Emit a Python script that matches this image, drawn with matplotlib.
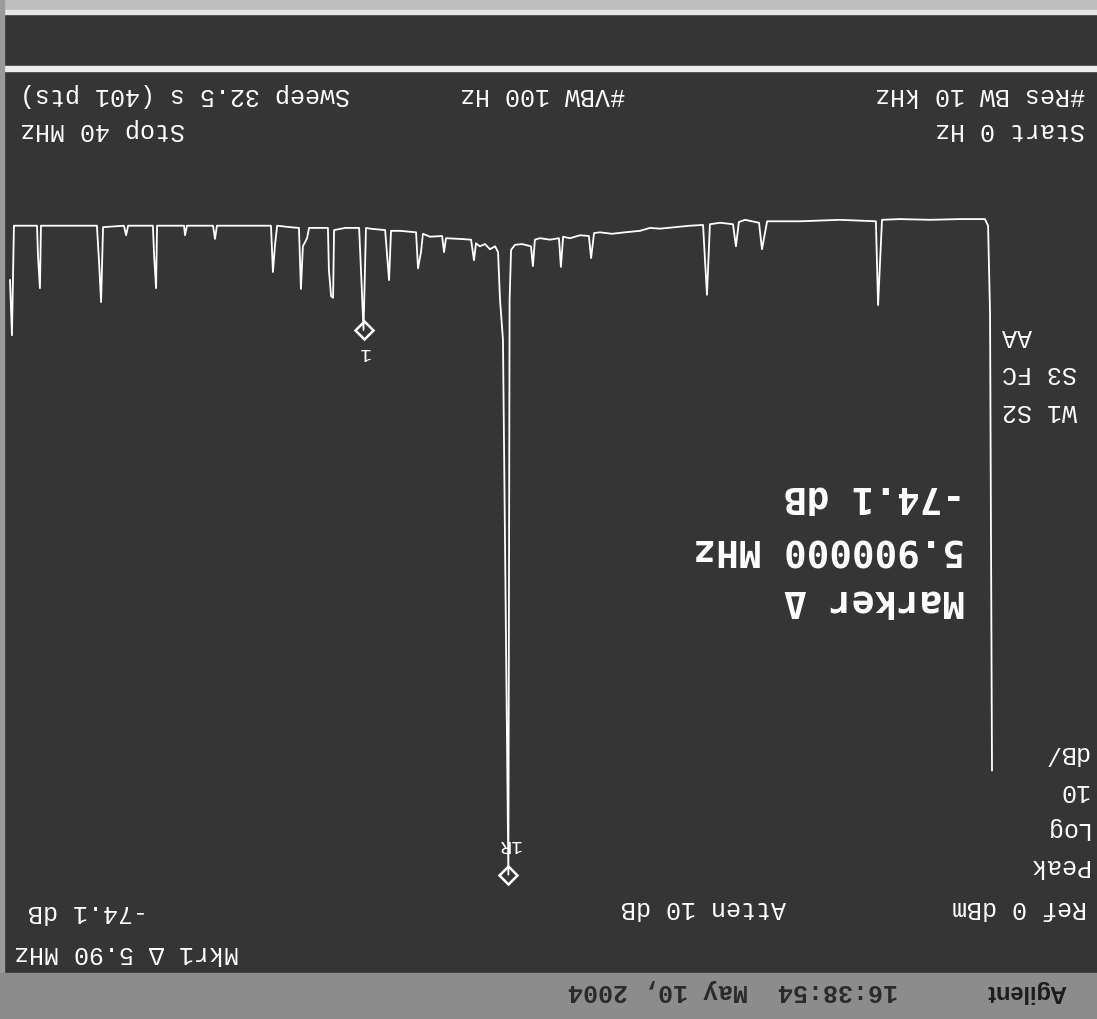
import matplotlib
matplotlib.use('Agg')
import matplotlib.pyplot as plt
from matplotlib.patches import Rectangle

freq_mhz = [0.00, 0.08, 0.16, 0.29, 1.30, 2.53, 3.75, 4.48, 4.56, 4.64,
            4.73, 6.19, 7.82, 9.16, 9.37, 9.49, 10.06, 10.31, 10.43, 10.55,
            11.08, 11.49, 11.61, 11.69, 11.77, 12.30, 12.91, 13.52, 13.93, 14.34,
            14.95, 15.48, 15.97, 16.21, 16.33, 16.42, 16.78, 17.19, 17.47, 17.56,
            17.64, 18.00, 18.41, 18.62, 18.70, 18.78, 19.14, 19.43, 19.59, 19.65,
            19.70, 19.92, 20.04, 20.12, 20.24, 20.45, 20.65, 20.86, 21.02, 21.10,
            21.22, 21.67, 22.24, 22.32, 22.40, 22.89, 23.18, 23.26, 23.38, 23.46,
            24.11, 24.48, 24.56, 24.64, 24.72, 25.34, 25.50, 25.60, 25.70, 25.78,
            26.35, 26.80, 26.84, 26.92, 27.01, 27.05, 27.82, 27.90, 28.07, 28.15,
            28.23, 28.59, 29.12, 29.21, 29.29, 29.37, 30.22, 31.57, 31.65, 31.73,
            32.79, 32.87, 32.91, 34.01, 34.05, 34.13, 34.18, 35.19, 35.27, 35.36,
            36.21, 36.29, 36.37, 36.46, 37.56, 38.74, 38.78, 38.86, 38.90, 39.84,
            39.92, 40.00]
level_dbm = [-15.6, -77.8, -89.7, -90.6, -90.6, -90.5, -90.6, -90.5, -84.8, -78.9,
             -90.3, -90.5, -90.3, -90.3, -86.5, -90.1, -90.5, -90.2, -86.9, -89.9,
             -90.1, -89.9, -80.3, -85.0, -89.8, -89.7, -89.5, -89.3, -89.4, -89.0,
             -88.8, -88.6, -88.8, -88.7, -85.3, -88.3, -88.4, -88.0, -88.2, -84.1,
             -88.0, -87.8, -88.0, -87.8, -84.2, -86.9, -87.2, -87.1, -86.4, -79.6,
             -1.4, -74.2, -79.6, -86.1, -86.9, -86.5, -87.2, -86.9, -87.3, -85.0,
             -87.8, -87.9, -88.0, -86.1, -88.3, -88.2, -88.6, -86.1, -83.9, -88.8,
             -89.0, -89.0, -82.3, -85.7, -89.1, -89.3, -89.4, -75.5, -83.4, -89.4,
             -89.4, -89.1, -79.9, -80.1, -83.7, -89.4, -89.4, -88.0, -86.9, -81.1,
             -89.4, -89.5, -89.7, -86.9, -83.4, -89.7, -89.7, -89.7, -87.9, -89.7,
             -89.7, -88.4, -89.7, -89.7, -81.2, -85.6, -89.7, -89.7, -88.4, -89.7,
             -89.5, -79.3, -84.6, -89.7, -89.7, -89.7, -81.2, -85.6, -89.7, -89.7,
             -74.8, -82.3]

marker_labels = ['1', '1R']
marker_freq = [25.60, 19.70]
marker_level = [-75.5, -1.4]

start_mhz, stop_mhz = 0, 40
ref_dbm, db_per_div = 0, 10

W, H = 1097, 1019
BG = '#353535'
MONO = ['Liberation Mono', 'DejaVu Sans Mono']

fig = plt.figure(figsize=(W / 100, H / 100), dpi=100, facecolor=BG)

# pixel-space layer for the screen furniture
bg = fig.add_axes([0, 0, 1, 1])
bg.set_xlim(0, W)
bg.set_ylim(H, 0)
bg.axis('off')
bg.add_patch(Rectangle((0, 0), W, 11, color='#bdbdbd'))
bg.add_patch(Rectangle((0, 10), W, 4, color='#e6e6e6'))
bg.add_patch(Rectangle((0, 66), W, 5, color='#ededed'))
bg.add_patch(Rectangle((0, 0), 4, H, color='#9a9a9a'))
bg.add_patch(Rectangle((0, 973), W, 46, color='#8c8c8c'))


def flip(x, y, s, ha='left', size=18, **kw):
    kw.setdefault('color', 'white')
    kw.setdefault('family', MONO)
    bg.text(x, y, s, rotation=180, ha=ha, va='center', fontsize=size, **kw)


d_f = marker_freq[0] - marker_freq[1]
d_l = marker_level[0] - marker_level[1]

flip(20, 95, 'Sweep 32.5 s (401 pts)')
flip(460, 95, '#VBW 100 Hz')
flip(1085, 95, '#Res BW 10 kHz', ha='right')
flip(20, 130, f'Stop {stop_mhz} MHz')
flip(1085, 130, f'Start {start_mhz} Hz', ha='right')

flip(1002, 336, '   AA')
flip(1002, 373, 'S3 FC')
flip(1002, 411, 'W1 S2')

flip(1088, 753, 'dB/', ha='right')
flip(1088, 791, f'{db_per_div}', ha='right')
flip(1088, 829, 'Log', ha='right')
flip(1088, 866, 'Peak', ha='right')
flip(1087, 908, f'Ref {ref_dbm} dBm', ha='right')
flip(704, 908, 'Atten 10 dB', ha='center')
flip(28, 912, f'{d_l:.1f} dB')
flip(14, 953, f'Mkr1 Δ {d_f:.2f} MHz')

big = dict(size=27, family=['DejaVu Sans Mono'], fontweight='bold')
flip(965, 497, f'{d_l:.1f} dB', ha='right', **big)
flip(965, 548, f'{d_f:.6f} MHz', ha='right', **big)
flip(965, 600, 'Marker Δ', ha='right', **big)

flip(1066, 991, 'Agilent', ha='right', size=17, color='#1c1c1c',
     family=['Liberation Sans'], fontweight='bold')
flip(898, 991, '16:38:54  May 10, 2004', ha='right', size=18, color='#2a2a2a',
     fontweight='bold')

# graticule area (display is rotated 180 degrees)
ax = fig.add_axes([10 / W, (H - 885) / H, 982 / W, 735 / H])
ax.set_xlim(stop_mhz, start_mhz)
ax.set_ylim(ref_dbm, ref_dbm - 10 * db_per_div)
ax.axis('off')
ax.plot(freq_mhz, level_dbm, color='white', lw=1.3, clip_on=False)
ax.plot(marker_freq, marker_level, 'D', ms=9, mfc='none', mec='white',
        mew=1.8, ls='none', clip_on=False)
offsets = [-16, 22]
for lab, f, l, dy in zip(marker_labels, marker_freq, marker_level, offsets):
    ax.annotate(lab, (f, l), xytext=(0, dy), textcoords='offset points',
                rotation=180, ha='center', va='center', fontsize=14,
                color='white', family=MONO)

fig.savefig('out.png', dpi=100, facecolor=BG)
